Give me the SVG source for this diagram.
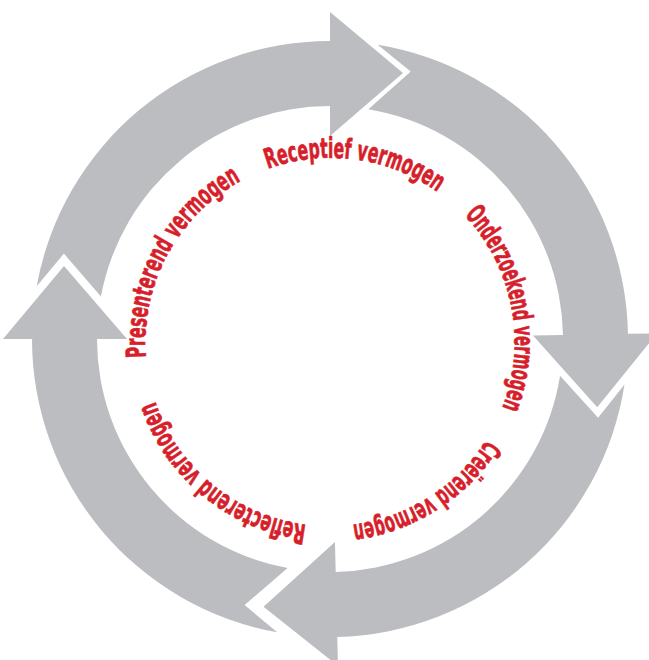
<svg xmlns="http://www.w3.org/2000/svg" xmlns:xlink="http://www.w3.org/1999/xlink" width="649" height="660" viewBox="0 0 649 660">
<style>
.arrow{fill:#bcbdc1;}
.lbl{font-family:"Liberation Sans Narrow","DejaVu Sans Condensed","Liberation Sans",sans-serif;font-weight:bold;font-size:27.5px;fill:#d71f2b;stroke:#d71f2b;stroke-width:0.7px;stroke-linejoin:round;}
</style>
<defs>
<path id="arrowShape" d="M36.7,286.2 A298,298 0 0,1 330,41 L330,12 L403,73 L330,136 L330,106 A233,233 0 0,0 100.9,296.6 L63.9,253.6 Z"/>
<path id="textCircle" d="M252.24,175.24 A184,184 0 1,1 407.76,508.76 A184,184 0 1,1 252.24,175.24" fill="none"/>
</defs>
<rect width="649" height="660" fill="#ffffff"/>
<g id="connectors">
<use href="#arrowShape" class="arrow"/>
<use href="#arrowShape" class="arrow" transform="rotate(89 330 339)"/>
<use href="#arrowShape" class="arrow" transform="rotate(178.6 330 339)"/>
<use href="#arrowShape" class="arrow" transform="rotate(270 330 339)"/>
</g>
<g id="receptief"><text class="lbl" text-anchor="middle"><textPath href="#textCircle" startOffset="106" textLength="178" lengthAdjust="spacingAndGlyphs">Receptief vermogen</textPath></text></g>
<g id="onderzoekend"><text class="lbl" text-anchor="middle"><textPath href="#textCircle" startOffset="334" textLength="207" lengthAdjust="spacingAndGlyphs">Onderzoekend vermogen</textPath></text></g>
<g id="creerend"><text class="lbl" text-anchor="middle"><textPath href="#textCircle" startOffset="555" textLength="164" lengthAdjust="spacingAndGlyphs">Creërend vermogen</textPath></text></g>
<g id="reflecterend"><text class="lbl" text-anchor="middle"><textPath href="#textCircle" startOffset="786" textLength="206" lengthAdjust="spacingAndGlyphs">Reflecterend vermogen</textPath></text></g>
<g id="presenterend"><text class="lbl" text-anchor="middle"><textPath href="#textCircle" startOffset="1040" textLength="212" lengthAdjust="spacingAndGlyphs">Presenterend vermogen</textPath></text></g>
</svg>
